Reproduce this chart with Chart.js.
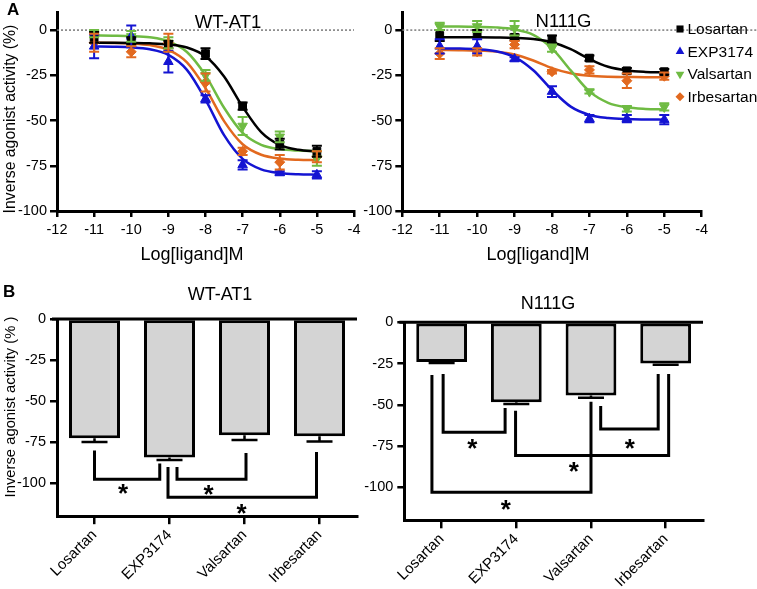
<!DOCTYPE html>
<html>
<head>
<meta charset="utf-8">
<title>AT1 inverse agonist activity</title>
<script src="https://cdn.jsdelivr.net/npm/chart.js@4.4.1/dist/chart.umd.min.js"></script>
<style>
  body { margin: 0; background: #fff; }
  #wrap { position: relative; width: 757px; height: 589px; overflow: hidden; }
  canvas { position: absolute; }
  .panel { position: absolute; font: bold 17px "Liberation Sans", Arial, sans-serif; }
</style>
</head>
<body>
<div id="wrap">
  <canvas id="aWT" width="370" height="280" style="left:0;top:0"></canvas>
  <canvas id="aMut" width="407" height="280" style="left:350px;top:0"></canvas>
  <canvas id="bWT" width="370" height="309" style="left:0;top:280px"></canvas>
  <canvas id="bMut" width="407" height="309" style="left:350px;top:280px"></canvas>
  <div class="panel" style="left:7px;top:0">A</div>
  <div class="panel" style="left:3px;top:282px">B</div>
</div>
<script>
const family = '"Liberation Sans", Arial, Helvetica, sans-serif';
Chart.defaults.font.family = family;
Chart.defaults.color = '#000';

const drugs = ['Losartan', 'EXP3174', 'Valsartan', 'Irbesartan'];
const doses = [-11, -10, -9, -8, -7, -6, -5];
const fitDoses = [-11, -10.5, -10, -9.5, -9, -8.5, -8, -7.5, -7, -6.5, -6, -5.5, -5];
const logTicks = [-12, -11, -10, -9, -8, -7, -6, -5, -4];
const pctTicks = [0, -25, -50, -75, -100];

// panel A, WT-AT1 (rows: Losartan, EXP3174, Valsartan, Irbesartan)
const wtMean = [
  [-4, -6, -8, -13, -42, -63, -67],
  [-9, -3.5, -17.5, -38, -74.5, -79, -80],
  [-2, -3.5, -7, -25, -53, -59, -71],
  [-7, -12, -7, -29, -67, -73, -70]
];
const wtSem = [
  [3, 2, 2, 3, 2, 3, 3],
  [6.5, 6, 6, 2, 2.5, 1, 2],
  [2, 3, 3, 3, 5, 3, 4],
  [5, 3, 5, 5, 2, 4, 3]
];
const wtFit = [
  [-7.0, -7.0, -7.1, -7.3, -7.9, -9.6, -14.5, -25.7, -42.4, -56.4, -63.5, -66.2, -67.1],
  [-9.1, -9.2, -9.5, -10.6, -13.7, -22.0, -38.4, -58.1, -71.2, -77.0, -79.0, -79.7, -79.9],
  [-3.0, -3.1, -3.3, -4.0, -6.2, -12.1, -25.0, -42.9, -56.8, -63.4, -65.8, -66.6, -66.9],
  [-7.0, -7.1, -7.4, -8.3, -10.9, -17.8, -32.1, -50.3, -63.1, -68.9, -71.0, -71.7, -71.9]
];

// panel A, N111G
const mutMean = [
  [-3, -2, -4, -5, -15.5, -22.5, -23],
  [-9, -9, -16, -34, -49, -49, -49.5],
  [2, 2, 1, -10, -34, -43.5, -42.5],
  [-13, -12, -8, -23, -22, -28, -25.5]
];
const mutSem = [
  [3, 2, 1.5, 2, 1.5, 1.5, 1.5],
  [4, 4, 1, 3, 2, 2, 2.5],
  [2, 3, 4, 2, 1, 1.5, 2],
  [3, 2, 2, 1, 2, 4, 2]
];
const mutFit = [
  [-4.0, -4.0, -4.0, -4.1, -4.3, -4.9, -6.7, -10.5, -16.0, -20.3, -22.3, -23.1, -23.4],
  [-10.1, -10.2, -10.6, -11.7, -14.9, -22.2, -33.1, -42.3, -46.9, -48.6, -49.2, -49.4, -49.5],
  [2.0, 2.0, 1.8, 1.5, 0.4, -2.6, -10.1, -22.3, -33.9, -40.2, -42.7, -43.6, -43.9],
  [-11.0, -11.1, -11.3, -11.9, -13.5, -16.8, -21.0, -23.9, -25.3, -25.8, -25.9, -26.0, -26.0]
];

// panel B, maximal inverse agonist activity
const barWT = [-72.5, -84.3, -70.8, -71.3];
const barWTErr = [2.3, 1.5, 2.8, 3.3];
const barMut = [-24, -48.4, -44.4, -25];
const barMutErr = [0.7, 1.1, 1.3, 0.8];

// significance brackets: [fromCat, fromY, toCat, toY, levelY]; stars: [cat, y]
const wtBrackets = [
  [0.0, -80, 0.87, -88, -97.5],
  [1.1, -90, 2.02, -81.5, -97.5],
  [0.98, -90, 2.96, -81, -108.5]
];
const wtStars = [[0.38, -103], [1.52, -103.5], [1.96, -115]];
const mutBrackets = [
  [0.02, -31.3, 0.85, -52, -66.7],
  [0.99, -53.6, 3.04, -31.3, -80.8],
  [2.13, -50.7, 2.9, -31.3, -64.7],
  [-0.13, -31.9, 2.0, -48.1, -103]
];
const mutStars = [[0.41, -73.4], [1.77, -87.1], [2.52, -73.4], [0.86, -110.1]];

const drugColors = ['#000000', '#1414d2', '#6fbb43', '#e2691f'];
const markStyle = ['rect', 'triangle', 'triangle', 'rectRot'];
const markRot = [0, 0, 180, 0];
const markSize = [5.5, 5.5, 5.5, 5];

const tickMarks = len => ({ drawOnChartArea: false, drawTicks: true, tickLength: len, color: '#000', lineWidth: 2.5 });
const axisLine = { display: true, color: '#000', width: 3 };

function doseSets(means, sems, fits) {
  const sets = [];
  drugs.forEach((d, i) => {
    sets.push({
      type: 'scatter',
      label: d,
      data: doses.map((x, j) => ({ x: x, y: means[i][j] })),
      errors: sems[i],
      pointStyle: markStyle[i],
      pointRotation: markRot[i],
      pointRadius: markSize[i],
      pointBackgroundColor: drugColors[i],
      pointBorderColor: drugColors[i],
      pointBorderWidth: 1,
      borderColor: drugColors[i]
    });
  });
  drugs.forEach((d, i) => {
    sets.push({
      type: 'line',
      label: d + ' fit',
      data: fitDoses.map((x, j) => ({ x: x, y: fits[i][j] })),
      borderColor: drugColors[i],
      borderWidth: 2.5,
      pointRadius: 0,
      cubicInterpolationMode: 'monotone',
      fill: false
    });
  });
  return sets;
}

function doseAxes(yWidth, xHeight) {
  return {
    x: {
      type: 'linear', min: -12, max: -4,
      afterBuildTicks: s => { s.ticks = logTicks.map(v => ({ value: v })); },
      afterFit: s => { s.height = xHeight; },
      grid: tickMarks(6), border: axisLine,
      ticks: { font: { size: 14.5 }, padding: 4, maxRotation: 0, autoSkip: false, callback: v => String(v) }
    },
    y: {
      min: -100, max: 10,
      afterBuildTicks: s => { s.ticks = pctTicks.map(v => ({ value: v })); },
      afterFit: s => { s.width = yWidth; },
      grid: tickMarks(7), border: axisLine,
      ticks: { font: { size: 14.5 }, padding: 3, callback: v => String(v) }
    }
  };
}

function barAxes(yWidth, xHeight) {
  return {
    x: {
      afterFit: s => { s.height = xHeight; },
      grid: Object.assign(tickMarks(8), { offset: false }), border: axisLine,
      ticks: { font: { size: 15 }, minRotation: 45, maxRotation: 45, padding: 2, autoSkip: false }
    },
    y: {
      min: -120, max: 0,
      afterBuildTicks: s => { s.ticks = pctTicks.map(v => ({ value: v })); },
      afterFit: s => { s.width = yWidth; },
      grid: tickMarks(7), border: axisLine,
      ticks: { font: { size: 14.5 }, padding: 4, callback: v => String(v) }
    }
  };
}

function overlay(cfg) {
  return {
    id: 'overlay',
    beforeDatasetsDraw(chart) {
      const ctx = chart.ctx, a = chart.chartArea, y = chart.scales.y;
      const y0 = y.getPixelForValue(0);
      ctx.save();
      if (cfg.dotted) {
        ctx.strokeStyle = '#7a7a7a';
        ctx.lineWidth = 1.5;
        ctx.setLineDash([2, 2]);
        ctx.beginPath();
        ctx.moveTo(a.left, y0);
        ctx.lineTo(cfg.dotted === 'area' ? a.right : chart.width, y0);
        ctx.stroke();
      }
      ctx.restore();
    },
    afterDatasetsDraw(chart) {
      const ctx = chart.ctx, a = chart.chartArea, x = chart.scales.x, y = chart.scales.y;
      ctx.save();
      chart.data.datasets.forEach((ds, i) => {
        if (!ds.errors) return;
        const meta = chart.getDatasetMeta(i);
        const isBar = meta.type === 'bar';
        ctx.strokeStyle = isBar ? '#000' : ds.borderColor;
        ctx.lineWidth = isBar ? 2.5 : 2;
        meta.data.forEach((el, j) => {
          const v = typeof ds.data[j] === 'number' ? ds.data[j] : ds.data[j].y;
          const e = ds.errors[j];
          const hw = isBar ? 13 : 5;
          const top = y.getPixelForValue(isBar ? v : v + e);
          const bot = y.getPixelForValue(v - e);
          ctx.beginPath();
          ctx.moveTo(el.x, top); ctx.lineTo(el.x, bot);
          ctx.moveTo(el.x - hw, bot); ctx.lineTo(el.x + hw, bot);
          if (!isBar) { ctx.moveTo(el.x - hw, top); ctx.lineTo(el.x + hw, top); }
          ctx.stroke();
        });
      });
      if (cfg.zeroLine) {
        ctx.strokeStyle = '#000';
        ctx.lineWidth = 3;
        ctx.beginPath();
        ctx.moveTo(a.left - 5, y.getPixelForValue(0));
        ctx.lineTo(a.right, y.getPixelForValue(0));
        ctx.stroke();
      }
      if (cfg.brackets) {
        ctx.strokeStyle = '#000';
        ctx.lineWidth = 3;
        ctx.lineJoin = 'miter';
        cfg.brackets.forEach(b => {
          const x1 = x.getPixelForValue(b[0]), x2 = x.getPixelForValue(b[2]);
          const lv = y.getPixelForValue(b[4]);
          ctx.beginPath();
          ctx.moveTo(x1, y.getPixelForValue(b[1]));
          ctx.lineTo(x1, lv);
          ctx.lineTo(x2, lv);
          ctx.lineTo(x2, y.getPixelForValue(b[3]));
          ctx.stroke();
        });
        ctx.fillStyle = '#000';
        ctx.font = 'bold 26px ' + family;
        ctx.textAlign = 'center';
        ctx.textBaseline = 'alphabetic';
        cfg.stars.forEach(s => {
          ctx.fillText('*', x.getPixelForValue(s[0]), y.getPixelForValue(s[1]) + 14);
        });
      }
      ctx.restore();
    },
    afterDraw(chart) {
      const ctx = chart.ctx;
      ctx.save();
      ctx.fillStyle = '#000';
      ctx.textAlign = 'center';
      ctx.textBaseline = 'middle';
      (cfg.texts || []).forEach(t => {
        ctx.save();
        ctx.translate(t.x, t.y);
        if (t.rot) ctx.rotate(t.rot);
        ctx.font = t.size + 'px ' + family;
        ctx.fillText(t.s, 0, 0);
        ctx.restore();
      });
      if (cfg.legend) {
        const L = cfg.legend;
        drugs.forEach((d, i) => {
          const yy = L.y0 + i * L.dy;
          ctx.fillStyle = drugColors[i];
          ctx.strokeStyle = drugColors[i];
          Chart.helpers.drawPoint(ctx, { pointStyle: markStyle[i], rotation: markRot[i], radius: markSize[i] - 0.5, borderWidth: 0 }, L.x, yy);
          ctx.fillStyle = '#000';
          ctx.textAlign = 'left';
          ctx.font = '15.5px ' + family;
          ctx.fillText(d, L.textX, yy + 1);
        });
      }
      ctx.restore();
    }
  };
}

const yTitle = 'Inverse agonist activity (%)';
const quiet = { legend: { display: false }, tooltip: { enabled: false } };

new Chart(document.getElementById('aWT'), {
  type: 'scatter',
  data: { datasets: doseSets(wtMean, wtSem, wtFit) },
  options: {
    responsive: false, animation: false,
    layout: { padding: { left: 0, right: 16, top: 12, bottom: 0 } },
    plugins: quiet,
    scales: doseAxes(57, 69)
  },
  plugins: [overlay({
    dotted: 'area',
    texts: [
      { s: 'WT-AT1', x: 228, y: 22.5, size: 18.5 },
      { s: yTitle, x: 11, y: 119, size: 15.8, rot: -Math.PI / 2 },
      { s: 'Log[ligand]M', x: 192, y: 255, size: 18 }
    ]
  })]
});

new Chart(document.getElementById('aMut'), {
  type: 'scatter',
  data: { datasets: doseSets(mutMean, mutSem, mutFit) },
  options: {
    responsive: false, animation: false,
    layout: { padding: { left: 0, right: 55.3, top: 12, bottom: 0 } },
    plugins: quiet,
    scales: doseAxes(52.3, 69)
  },
  plugins: [overlay({
    dotted: 'canvas',
    legend: { x: 330, y0: 29, dy: 22.6, textX: 337.5 },
    texts: [
      { s: 'N111G', x: 213.5, y: 21.5, size: 18.5 },
      { s: 'Log[ligand]M', x: 188, y: 255, size: 18 }
    ]
  })]
});

function barChart(id, values, errs, yWidth, xHeight, padRight, padTop, extra) {
  return new Chart(document.getElementById(id), {
    type: 'bar',
    data: {
      labels: drugs,
      datasets: [{
        data: values,
        errors: errs,
        backgroundColor: '#d4d4d4',
        borderColor: '#000',
        borderWidth: 3,
        borderSkipped: false,
        barPercentage: 0.68,
        categoryPercentage: 1
      }]
    },
    options: {
      responsive: false, animation: false,
      layout: { padding: { left: 0, right: padRight, top: padTop, bottom: 0 } },
      plugins: quiet,
      scales: barAxes(yWidth, xHeight)
    },
    plugins: [overlay(extra)]
  });
}

barChart('bWT', barWT, barWTErr, 57, 72.8, 13, 39, {
  zeroLine: true,
  brackets: wtBrackets,
  stars: wtStars,
  texts: [
    { s: 'WT-AT1', x: 220, y: 15, size: 18 },
    { s: 'Inverse agonist activity (% )', x: 11, y: 127, size: 14.8, rot: -Math.PI / 2 }
  ]
});

barChart('bMut', barMut, barMutErr, 54.3, 68.7, 54, 42.3, {
  zeroLine: true,
  brackets: mutBrackets,
  stars: mutStars,
  texts: [
    { s: 'N111G', x: 198, y: 24, size: 18 }
  ]
});
</script>
</body>
</html>
